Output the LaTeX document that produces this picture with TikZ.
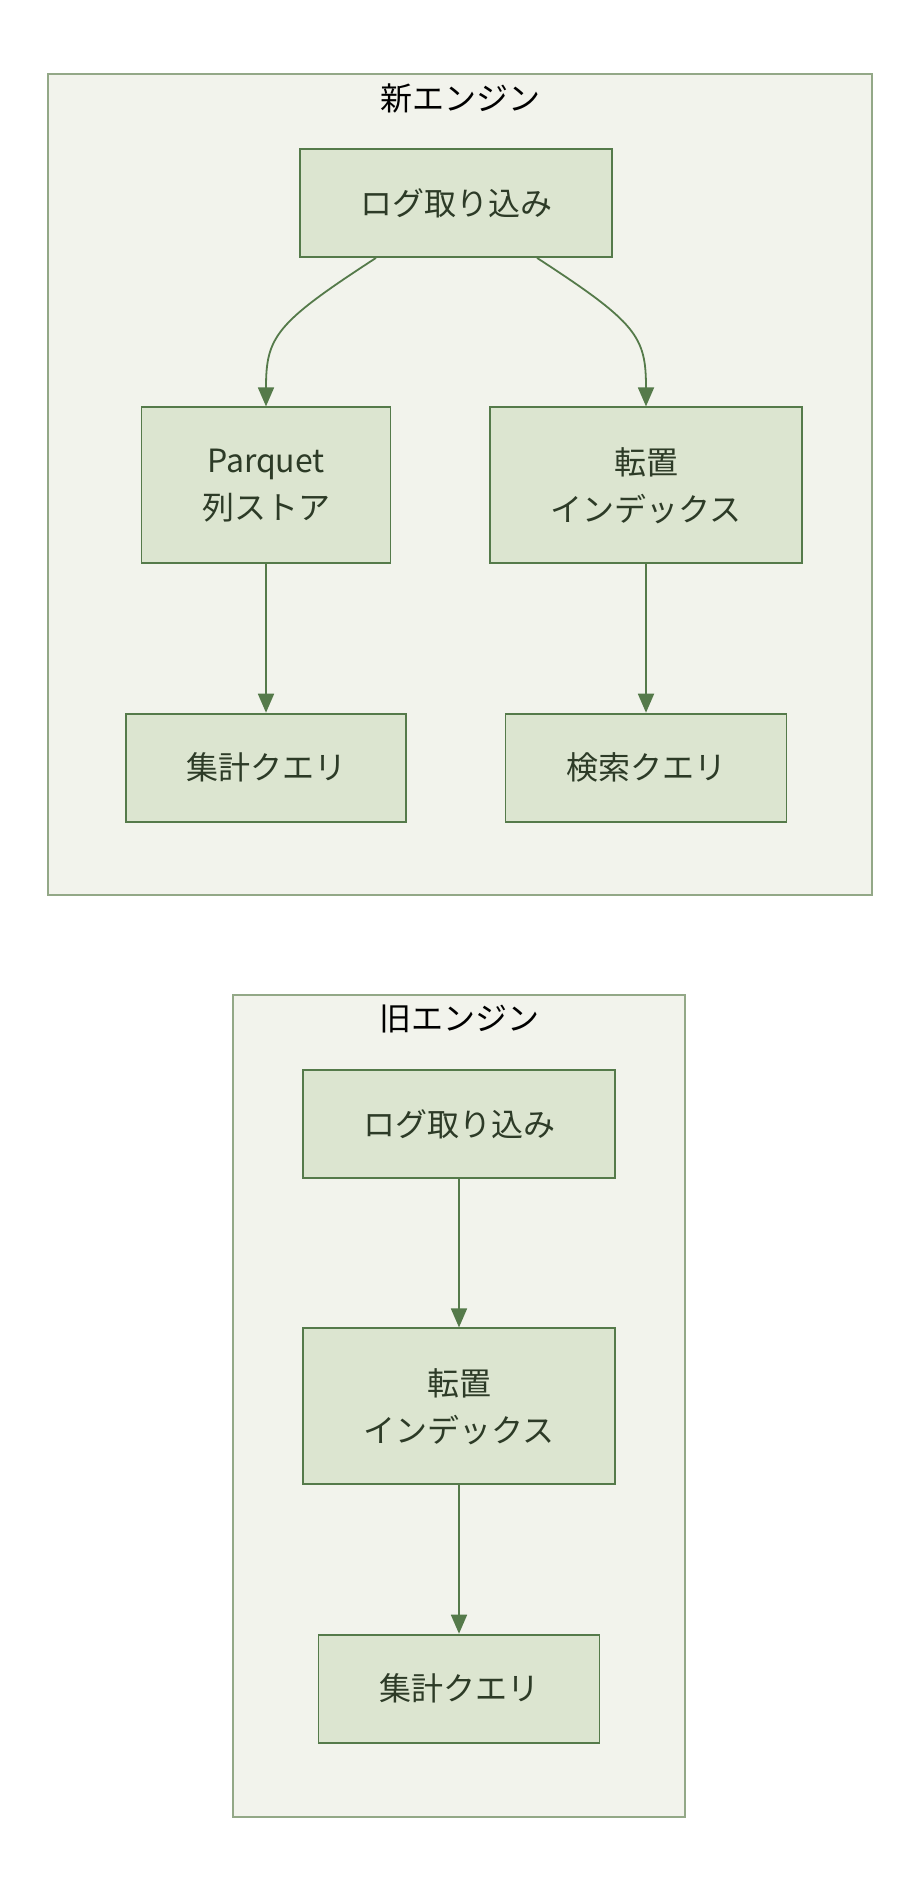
\documentclass[tikz,border=0pt]{standalone}
\usepackage{fontspec}
\setmainfont{Noto Sans CJK JP}
\usetikzlibrary{arrows.meta,positioning,calc}
\definecolor{nodefill}{HTML}{DCE5D0}
\definecolor{nodeline}{HTML}{557A4A}
\definecolor{clfill}{HTML}{F2F3EC}
\definecolor{clline}{HTML}{93A887}
\definecolor{nodetext}{HTML}{2D3B27}
\tikzset{
  clusterbox/.style={draw=clline, fill=clfill, line width=1.6pt, inner sep=0pt},
  cltitle/.style={text=black, font=\fontsize{32}{47}\selectfont, inner sep=0pt},
  stepbox/.style={draw=nodeline, fill=nodefill, line width=1.8pt, align=center,
                  text=nodetext, font=\fontsize{32}{47}\selectfont, inner sep=0pt},
  arr/.style={-{Triangle[length=19pt, width=16pt]}, line width=1.8pt, color=nodeline}}

\begin{document}
\begin{tikzpicture}[x=1pt, y=1pt, node distance=148.5pt]
    \useasboundingbox (0,0) rectangle (920,-1896);
    % new engine
    \node[clusterbox, minimum width=824, minimum height=821] (newengine) at (460,-484.5) {};
    \node[cltitle] (newtitle) at ([yshift=-25pt]newengine.north) {新エンジン};
    \node[stepbox, minimum width=312, minimum height=108] (ingest) at (456,-203) {ログ取り込み};
    \node[stepbox, minimum width=249, minimum height=156, below=of ingest, xshift=-190pt] (parquet)
      {Parquet\\列ストア};
    \node[stepbox, minimum width=312, minimum height=156, below=of ingest, xshift=190pt] (index)
      {転置\\インデックス};
    \node[stepbox, minimum width=280, minimum height=108, below=of parquet] (aggq) {集計クエリ};
    \node[stepbox, minimum width=281, minimum height=108, below=of index] (searchq) {検索クエリ};
    \draw[arr] ([xshift=-80pt]ingest.south) .. controls +(-100,-65) and +(0,70) .. (parquet.north);
    \draw[arr] ([xshift=81pt]ingest.south) .. controls +(100,-65) and +(0,70) .. (index.north);
    \draw[arr] (parquet) -- (aggq);
    \draw[arr] (index) -- (searchq);
    % old engine
    \node[clusterbox, minimum width=452, minimum height=822] (oldengine) at (459,-1406) {};
    \node[cltitle] (oldtitle) at ([yshift=-25pt]oldengine.north) {旧エンジン};
    \node[stepbox, minimum width=312, minimum height=108] (oldingest) at (459,-1124) {ログ取り込み};
    \node[stepbox, minimum width=312, minimum height=156, below=of oldingest] (oldindex)
      {転置\\インデックス};
    \node[stepbox, minimum width=281, minimum height=108, below=of oldindex] (oldaggq) {集計クエリ};
    \draw[arr] (oldingest) -- (oldindex);
    \draw[arr] (oldindex) -- (oldaggq);
  \end{tikzpicture}
\end{document}
